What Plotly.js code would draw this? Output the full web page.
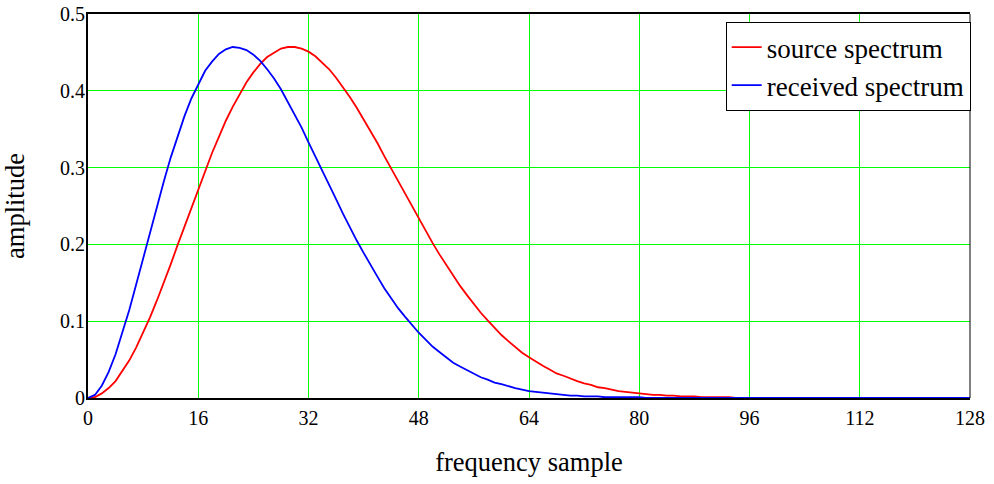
<!DOCTYPE html>
<html>
<head>
<meta charset="utf-8">
<script src="https://cdn.plot.ly/plotly-3.0.1.min.js"></script>
<style>html,body{margin:0;padding:0;background:#fff;}#chart{width:994px;height:484px;}</style>
</head>
<body>
<div id="chart"></div>
<script>
var frequencySample = [0,1,2,3,4,5,6,7,8,9,10,11,12,13,14,15,16,17,18,19,20,21,22,23,24,25,26,27,28,29,30,31,32,33,34,35,36,37,38,39,40,41,42,43,44,45,46,47,48,49,50,51,52,53,54,55,56,57,58,59,60,61,62,63,64,65,66,67,68,69,70,71,72,73,74,75,76,77,78,79,80,81,82,83,84,85,86,87,88,89,90,91,92,93,94,95,96,97,98,99,100,101,102,103,104,105,106,107,108,109,110,111,112,113,114,115,116,117,118,119,120,121,122,123,124,125,126,127,128];

var sourceSpectrum = [0,0.001,0.006,0.013,0.022,0.035,0.049,0.066,0.085,0.105,0.127,0.150,0.174,0.199,0.223,0.248,0.272,0.296,0.319,0.340,0.361,0.379,0.396,0.411,0.424,0.435,0.444,0.450,0.455,0.457,0.457,0.455,0.451,0.445,0.437,0.428,0.417,0.405,0.392,0.378,0.363,0.348,0.332,0.315,0.299,0.282,0.266,0.249,0.233,0.217,0.202,0.187,0.173,0.159,0.146,0.134,0.122,0.111,0.101,0.091,0.082,0.074,0.066,0.059,0.053,0.047,0.042,0.037,0.032,0.029,0.025,0.022,0.019,0.017,0.014,0.013,0.011,0.009,0.008,0.007,0.006,0.005,0.004,0.004,0.003,0.003,0.002,0.002,0.002,0.001,0.001,0.001,0.001,0.001,0,0,0,0,0,0,0,0,0,0,0,0,0,0,0,0,0,0,0,0,0,0,0,0,0,0,0,0,0,0,0,0,0,0,0];

var receivedSpectrum = [0,0.004,0.016,0.034,0.057,0.085,0.115,0.148,0.182,0.216,0.249,0.282,0.313,0.341,0.367,0.390,0.409,0.426,0.438,0.448,0.454,0.457,0.456,0.453,0.447,0.439,0.428,0.416,0.402,0.386,0.369,0.352,0.333,0.315,0.296,0.277,0.259,0.240,0.222,0.205,0.189,0.173,0.158,0.143,0.130,0.117,0.106,0.095,0.085,0.076,0.067,0.060,0.053,0.046,0.041,0.036,0.031,0.027,0.024,0.020,0.018,0.015,0.013,0.011,0.009,0.008,0.007,0.006,0.005,0.004,0.003,0.003,0.002,0.002,0.002,0.001,0.001,0.001,0.001,0.001,0.001,0,0,0,0,0,0,0,0,0,0,0,0,0,0,0,0,0,0,0,0,0,0,0,0,0,0,0,0,0,0,0,0,0,0,0,0,0,0,0,0,0,0,0,0,0,0,0,0];

var xTicks = [0,16,32,48,64,80,96,112,128];
var yTicks = [0,0.1,0.2,0.3,0.4,0.5];
var yTickText = ['0','0.1','0.2','0.3','0.4','0.5'];

var serif = 'Liberation Serif, Times New Roman, serif';

var traces = [
  {x: frequencySample, y: sourceSpectrum, type: 'scatter', mode: 'lines', name: 'source spectrum',
   line: {color: '#ff0000', width: 1.8}, cliponaxis: false},
  {x: frequencySample, y: receivedSpectrum, type: 'scatter', mode: 'lines', name: 'received spectrum',
   line: {color: '#0000ff', width: 1.8}, cliponaxis: false}
];

var layout = {
  width: 994, height: 484,
  margin: {l: 88, r: 24, t: 14, b: 86, pad: 0},
  paper_bgcolor: '#ffffff', plot_bgcolor: '#ffffff',
  font: {family: serif, size: 20, color: '#000000'},
  showlegend: true,
  legend: {
    x: 0.723, y: 0.979, xanchor: 'left', yanchor: 'top',
    bgcolor: '#ffffff', bordercolor: '#000000', borderwidth: 1,
    font: {family: serif, size: 27, color: '#000000'},
    itemwidth: 30, tracegroupgap: 0
  },
  xaxis: {
    range: [0, 128], tickvals: xTicks, ticktext: xTicks.map(String),
    showgrid: true, gridcolor: '#00ff00', gridwidth: 1,
    showline: true, linecolor: '#000000', linewidth: 2, mirror: true,
    zeroline: false, ticks: 'outside', ticklen: 1, tickcolor: 'rgba(0,0,0,0)',
    tickfont: {family: serif, size: 20, color: '#000000'},
    layer: 'below traces', automargin: false,
    title: {text: 'frequency sample', font: {family: serif, size: 26.5, color: '#000000'}, standoff: 24}
  },
  yaxis: {
    range: [0, 0.5], tickvals: yTicks, ticktext: yTickText,
    showgrid: true, gridcolor: '#00ff00', gridwidth: 1,
    showline: true, linecolor: '#000000', linewidth: 2,
    zeroline: false, ticks: '', ticklabelstandoff: -3,
    tickfont: {family: serif, size: 20, color: '#000000'},
    layer: 'below traces', automargin: false,
    title: {text: 'amplitude', font: {family: serif, size: 26.5, color: '#000000'}, standoff: 30}
  },
  shapes: [
    {type: 'line', xref: 'paper', yref: 'paper', x0: 1, x1: 1, y0: 0, y1: 1,
     line: {color: '#000000', width: 1}}
  ]
};

Plotly.newPlot('chart', traces, layout, {staticPlot: true, displayModeBar: false});
</script>
</body>
</html>
